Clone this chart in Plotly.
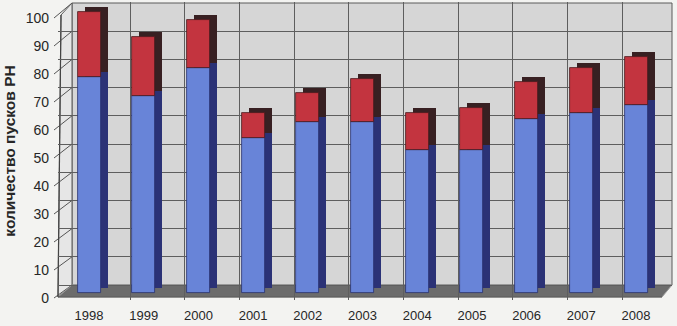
import plotly.graph_objects as go

# ---- data ----
years = ["1998", "1999", "2000", "2001", "2002", "2003", "2004", "2005", "2006", "2007", "2008"]
blue_vals = [77, 70, 80, 55, 61, 61, 51, 51, 62, 64, 67]
red_vals = [23, 21, 17, 9, 10, 15, 13, 15, 13, 16, 17]
y_ticks = [0, 10, 20, 30, 40, 50, 60, 70, 80, 90, 100]
y_title = "количество пусков РН"

# ---- geometry (pixels) ----
W, H = 677, 326
PL, PR, PT, PB = 58, 672, 2, 300          # plot area in pixels
pw, ph = PR - PL, PB - PT
STEP = 54.7                               # px per category
FRONT_C0 = 89                             # px of first category centre (front)
BACK_B0 = 130                             # px of first back boundary
BAR_PX = 23
SIDE_DX, SIDE_DY = 7, 5

# y scales: value -> pixel  y = zero - k*v
BAR_ZERO, BAR_K = 293, 2.81
LAB_ZERO, LAB_K = 298, 2.80
GRID_ZERO, GRID_K = 285, 2.82


def yr(zero, k):
    return [(zero - PB) / k, (zero - PT) / k]


def px(x):
    return (x - PL) / pw


def py(y):
    return (PB - y) / ph


n = len(years)
xs = list(range(n))
bw = BAR_PX / STEP
dx = SIDE_DX / STEP
dy = SIDE_DY / BAR_K

fig = go.Figure()

# side/top faces (depth)
fig.add_trace(go.Bar(x=xs, y=blue_vals, base=[dy] * n, width=bw, offset=-bw / 2 + dx,
                     marker=dict(color="#2b3276", line=dict(width=0)), hoverinfo="skip"))
fig.add_trace(go.Bar(x=xs, y=red_vals, base=[b + dy for b in blue_vals], width=bw, offset=-bw / 2 + dx,
                     marker=dict(color="#382022", line=dict(width=0)), hoverinfo="skip"))
# front faces
fig.add_trace(go.Bar(x=xs, y=blue_vals, base=[0] * n, width=bw, offset=-bw / 2,
                     marker=dict(color="#6884d8", line=dict(color="#2a3270", width=0.8))))
fig.add_trace(go.Bar(x=xs, y=red_vals, base=blue_vals, width=bw, offset=-bw / 2,
                     marker=dict(color="#c3343f", line=dict(color="#4a1a1e", width=0.8))))

# helper empty traces so that overlay axes are drawn
fig.add_trace(go.Scatter(x=[], y=[], xaxis="x", yaxis="y2", showlegend=False))
fig.add_trace(go.Scatter(x=[], y=[], xaxis="x2", yaxis="y3", showlegend=False))

shapes = []
# back wall
shapes.append(dict(type="rect", xref="paper", yref="paper", layer="below",
                   x0=px(72), x1=px(672), y0=py(GRID_ZERO), y1=py(GRID_ZERO - 100 * GRID_K),
                   fillcolor="#d6d6d6", line=dict(color="#5a5a5a", width=1)))
# left wall
lw_path = "M {} {} L {} {} L {} {} L {} {} Z".format(
    px(PL), py(297), px(72), py(GRID_ZERO), px(72), py(GRID_ZERO - 100 * GRID_K), px(PL + 3), py(LAB_ZERO - 100 * LAB_K - 3))
shapes.append(dict(type="path", xref="paper", yref="paper", layer="between", path=lw_path,
                   fillcolor="#e6e6e6", line=dict(color="#5a5a5a", width=1)))
for v in y_ticks:
    shapes.append(dict(type="line", xref="paper", yref="paper", layer="between",
                       x0=px(PL - 4), y0=py(LAB_ZERO - v * LAB_K), x1=px(72),
                       y1=py(GRID_ZERO - v * GRID_K), line=dict(color="#555555", width=1)))
# floor
fl_path = "M {} {} L {} {} L {} {} L {} {} Z".format(
    px(PL), py(297), px(662), py(297), px(672), py(GRID_ZERO), px(72), py(GRID_ZERO))
shapes.append(dict(type="path", xref="paper", yref="paper", layer="between", path=fl_path,
                   fillcolor="#6c6c6c", line=dict(color="#9a9a9a", width=1)))
# cover below floor
shapes.append(dict(type="rect", xref="paper", yref="paper", layer="between",
                   x0=px(PL + 1), x1=1, y0=0, y1=py(297.5),
                   fillcolor="#f3f3f1", line=dict(width=0)))
# front axis edges
shapes.append(dict(type="line", xref="paper", yref="paper", layer="between",
                   x0=px(PL), y0=py(297), x1=px(PL + 3), y1=py(LAB_ZERO - 100 * LAB_K - 3),
                   line=dict(color="#444444", width=1.2)))
shapes.append(dict(type="line", xref="paper", yref="paper", layer="between",
                   x0=px(PL), y0=py(297), x1=px(662), y1=py(297),
                   line=dict(color="#444444", width=1.2)))

FAM = "Liberation Sans, Arial, sans-serif"
x_font = dict(family=FAM, size=13, color="#262626")
y_font = dict(family=FAM, size=14, color="#262626")

fig.update_layout(
    width=W, height=H,
    margin=dict(l=PL, r=W - PR, t=PT, b=H - PB, pad=0),
    paper_bgcolor="#f3f3f1", plot_bgcolor="#f3f3f1",
    barmode="overlay", showlegend=False, bargap=0,
    shapes=shapes,
    xaxis=dict(range=[(PL - FRONT_C0) / STEP, (PR - FRONT_C0) / STEP], tickmode="array",
               tickvals=xs, ticktext=years, showgrid=False, zeroline=False, showline=False,
               ticks="", ticklabelstandoff=6, tickfont=x_font, fixedrange=True),
    xaxis2=dict(overlaying="x", range=[(PL - (BACK_B0 - STEP / 2)) / STEP, (PR - (BACK_B0 - STEP / 2)) / STEP],
                tickmode="array", tickvals=[k + 0.5 for k in range(n - 1)], showticklabels=False,
                showgrid=True, gridcolor="#5e5e5e", gridwidth=1, zeroline=False, ticks=""),
    yaxis=dict(range=yr(BAR_ZERO, BAR_K), showgrid=False, zeroline=False, showticklabels=False,
               ticks="", showline=False),
    yaxis2=dict(overlaying="y", range=yr(LAB_ZERO, LAB_K), tickmode="array", tickvals=y_ticks,
                showgrid=False, zeroline=False, showline=False, ticks="", ticklabelstandoff=8,
                tickfont=y_font, side="left",
                title=dict(text="<b>" + y_title + "</b>", standoff=6,
                           font=dict(family=FAM, size=15.5, color="#262626"))),
    yaxis3=dict(overlaying="y", range=yr(GRID_ZERO, GRID_K), tickmode="array", tickvals=y_ticks[:-1],
                showticklabels=False, showgrid=True, gridcolor="#5e5e5e", gridwidth=1, zeroline=False,
                ticks=""),
)

fig.write_html("out.html")
